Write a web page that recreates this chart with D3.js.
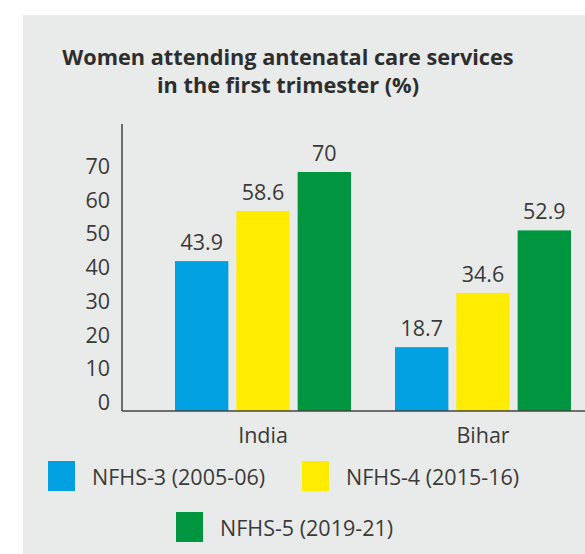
<!DOCTYPE html>
<html>
<head>
<meta charset="utf-8">
<script src="https://cdn.jsdelivr.net/npm/d3@7"></script>
<style>
  body { margin: 0; background: #fff; }
  svg { display: block; font-family: "Open Sans", "Liberation Sans", Arial, sans-serif; }
</style>
</head>
<body>
<svg id="chart" width="585" height="554"></svg>
<script>
const groups = ["India", "Bihar"];
const series = ["NFHS-3 (2005-06)", "NFHS-4 (2015-16)", "NFHS-5 (2019-21)"];
const indiaValues = [43.9, 58.6, 70];
const biharValues = [18.7, 34.6, 52.9];
const yTicks = [0, 10, 20, 30, 40, 50, 60, 70];
const COLORS = ["#00a0e1", "#ffec00", "#00963f"];
const TEXT_COLOR = "#3a3a3a";
const FONT_SIZE = "21.5px";

const data = groups.map((g, i) => ({
  group: g,
  values: (i === 0 ? indiaValues : biharValues).map((v, j) => ({ key: series[j], value: v }))
}));

const svg = d3.select("#chart");

// grey panel
svg.append("rect")
  .attr("x", 23).attr("y", 15)
  .attr("width", 585 - 23).attr("height", 554 - 15)
  .attr("fill", "#e9eaea");

// title
const title = svg.append("text")
  .attr("text-anchor", "middle")
  .attr("font-weight", "bold")
  .attr("font-size", "21.7px")
  .attr("fill", "#2e2e2e");
title.append("tspan").attr("x", 288).attr("y", 65).text("Women attending antenatal care services");
title.append("tspan").attr("x", 288).attr("y", 93).text("in the first trimester (%)");

// scales
const y = d3.scaleLinear().domain([0, 70]).range([411, 172]);

const x0 = d3.scaleBand()
  .domain(groups)
  .range([153, 593])
  .paddingInner(0.2)
  .paddingOuter(0.1);

const x1 = d3.scaleBand()
  .domain(series)
  .range([0, x0.bandwidth()])
  .paddingInner(0.13);

// y labels (no axis ticks, labels only)
svg.append("g")
  .selectAll("text")
  .data(yTicks)
  .join("text")
  .attr("x", 110)
  .attr("y", (d) => y(d) - 1 + d * 0.043)
  .attr("text-anchor", "end")
  .attr("font-size", FONT_SIZE)
  .attr("fill", TEXT_COLOR)
  .text((d) => d);

// bars
const groupG = svg.append("g")
  .selectAll("g")
  .data(data)
  .join("g")
  .attr("transform", (d) => `translate(${x0(d.group)},0)`);

groupG.selectAll("rect")
  .data((d) => d.values)
  .join("rect")
  .attr("x", (d) => x1(d.key))
  .attr("y", (d) => y(d.value))
  .attr("width", x1.bandwidth())
  .attr("height", (d) => y(0) - y(d.value))
  .attr("fill", (d, i) => COLORS[i]);

groupG.selectAll("text.val")
  .data((d) => d.values)
  .join("text")
  .attr("class", "val")
  .attr("x", (d) => x1(d.key) + x1.bandwidth() / 2)
  .attr("y", (d) => y(d.value) - 11)
  .attr("text-anchor", "middle")
  .attr("font-size", FONT_SIZE)
  .attr("fill", TEXT_COLOR)
  .text((d) => d.value);

// axes lines
svg.append("line")
  .attr("x1", 122).attr("x2", 122)
  .attr("y1", 124).attr("y2", 411)
  .attr("stroke", "#444").attr("stroke-width", 1.5);
svg.append("line")
  .attr("x1", 122).attr("x2", 585)
  .attr("y1", 411).attr("y2", 411)
  .attr("stroke", "#444").attr("stroke-width", 1.5);

// category labels
svg.append("g")
  .selectAll("text")
  .data(groups)
  .join("text")
  .attr("x", (d) => x0(d) + x0.bandwidth() / 2)
  .attr("y", 443)
  .attr("text-anchor", "middle")
  .attr("font-size", FONT_SIZE)
  .attr("fill", TEXT_COLOR)
  .text((d) => d);

// legend
const legendPos = [[48, 461], [302, 461], [176, 512]];
const legend = svg.append("g")
  .selectAll("g")
  .data(series)
  .join("g")
  .attr("transform", (d, i) => `translate(${legendPos[i][0]},${legendPos[i][1]})`);

legend.append("rect")
  .attr("width", 27).attr("height", 30)
  .attr("fill", (d, i) => COLORS[i]);

legend.append("text")
  .attr("x", 44)
  .attr("y", 24)
  .attr("font-size", FONT_SIZE)
  .attr("fill", TEXT_COLOR)
  .text((d) => d);
</script>
</body>
</html>
